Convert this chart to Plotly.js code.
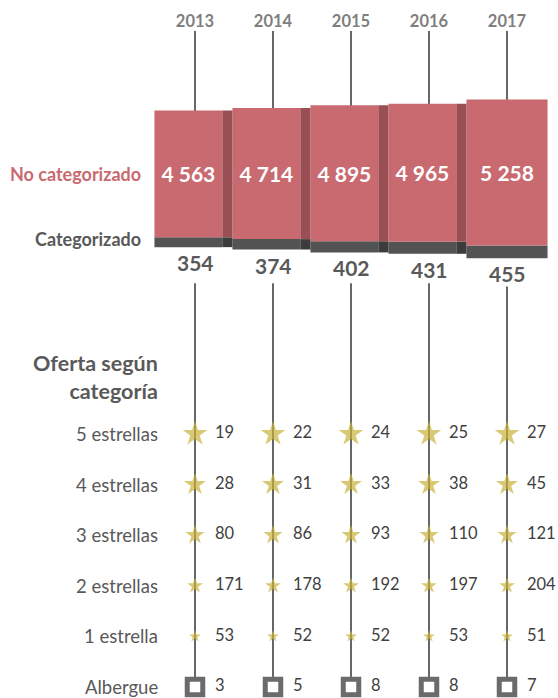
<!DOCTYPE html>
<html>
<head>
<meta charset="utf-8">
<script src="https://cdn.plot.ly/plotly-3.0.1.min.js"></script>
<style>html,body{margin:0;padding:0;background:#fff;}#chart{width:558px;height:698px;}</style>
</head>
<body>
<div id="chart"></div>
<script>
// ---- data ----
var years = ['2013', '2014', '2015', '2016', '2017'];
var noCategorizado = [4563, 4714, 4895, 4965, 5258];
var categorizado = [354, 374, 402, 431, 455];
var rowLabels = ['5 estrellas', '4 estrellas', '3 estrellas', '2 estrellas', '1 estrella', 'Albergue'];
var cinco = [19, 22, 24, 25, 27];
var cuatro = [28, 31, 33, 38, 45];
var tres = [80, 86, 93, 110, 121];
var dos = [171, 178, 192, 197, 204];
var una = [53, 52, 52, 53, 51];
var albergue = [3, 5, 8, 8, 7];

// ---- derived ----
var idx = years.map(function (_, i) { return i; });
var last = idx.length - 1;
var totals = idx.map(function (i) { return noCategorizado[i] + categorizado[i]; });
var baseDark = totals.map(function (t) { return -t / 2; });
var basePink = idx.map(function (i) { return -totals[i] / 2 + categorizado[i]; });
var starRows = [cinco, cuatro, tres, dos, una];
var starSizes = [18.5, 16.5, 14.5, 12, 9];
var faceW = idx.map(function (i) { return i < last ? 0.87 : 1.04; });

var FONT = 'Lato, "Open Sans", sans-serif';
var PINK = '#C96A70', PINK_SH = '#9A4F54', DARK = '#535353', DARK_SH = '#3C3C3C';
var GOLD = '#C9B23B', TXT = '#595959';

var traces = [];
// main bars (front faces)
traces.push({
  type: 'bar', x: idx, y: categorizado, base: baseDark,
  width: faceW, offset: -0.52, marker: {color: DARK, line: {width: 0}},
  hoverinfo: 'skip', showlegend: false
});
traces.push({
  type: 'bar', x: idx, y: noCategorizado, base: basePink,
  width: faceW, offset: -0.52, marker: {color: PINK, line: {width: 0}},
  texttemplate: '%{y:,}', textposition: 'inside', insidetextanchor: 'middle',
  textangle: 0, constraintext: 'none',
  insidetextfont: {family: FONT, size: 21, color: '#ffffff', weight: 'bold'},
  hoverinfo: 'skip', showlegend: false
});
// shadow strips (all but last)
var sh = idx.slice(0, last);
traces.push({
  type: 'bar', x: sh, y: sh.map(function (i) { return categorizado[i]; }),
  base: sh.map(function (i) { return baseDark[i]; }),
  width: 0.13, offset: 0.35, marker: {color: DARK_SH, line: {width: 0}},
  hoverinfo: 'skip', showlegend: false
});
traces.push({
  type: 'bar', x: sh, y: sh.map(function (i) { return noCategorizado[i]; }),
  base: sh.map(function (i) { return basePink[i]; }),
  width: 0.13, offset: 0.35, marker: {color: PINK_SH, line: {width: 0}},
  hoverinfo: 'skip', showlegend: false
});

// stars
var sx = [], sy = [], ss = [], tx = [], ty = [], tt = [];
starRows.forEach(function (row, r) {
  row.forEach(function (v, i) {
    sx.push(i); sy.push(r); ss.push(starSizes[r]);
    tx.push(i + 0.255); ty.push(r); tt.push(String(v));
  });
});
albergue.forEach(function (v, i) {
  tx.push(i + 0.255); ty.push(5); tt.push(String(v));
});
traces.push({
  type: 'scatter', mode: 'markers', x: sx, y: sy, yaxis: 'y2',
  marker: {symbol: 'star', size: ss, color: GOLD, line: {width: 0}},
  cliponaxis: false, hoverinfo: 'skip', showlegend: false
});
traces.push({
  type: 'scatter', mode: 'markers', x: idx, y: idx.map(function () { return 5; }), yaxis: 'y2',
  marker: {symbol: 'square', size: 15.5, color: '#ffffff', line: {width: 5, color: '#6B6B6B'}},
  cliponaxis: false, hoverinfo: 'skip', showlegend: false
});
traces.push({
  type: 'scatter', mode: 'text', x: tx, y: ty, yaxis: 'y2',
  text: tt, textposition: 'middle right',
  textfont: {family: FONT, size: 16.5, color: '#404040'},
  cliponaxis: false, hoverinfo: 'skip', showlegend: false
});

// vertical guide lines
var shapes = [];
idx.forEach(function (i) {
  shapes.push({type: 'line', layer: 'below', xref: 'x', yref: 'y', x0: i, x1: i, y0: 0, y1: 100000,
    line: {color: '#404040', width: 1.6}});
  shapes.push({type: 'line', layer: 'below', xref: 'x', yref: 'y2', x0: i, x1: i, y0: -2.98, y1: 5,
    line: {color: '#404040', width: 1.6}});
});

// annotations
var annotations = [];
// categorized numbers below bars
idx.forEach(function (i) {
  annotations.push({xref: 'x', yref: 'y', x: i, y: baseDark[i], xanchor: 'center', yanchor: 'top', yshift: -2,
    text: String(categorizado[i]), showarrow: false, bgcolor: '#ffffff', borderpad: 0,
    font: {family: FONT, size: 21, color: TXT, weight: 'bold'}});
});
rowLabels.forEach(function (lab, r) {
  annotations.push({xref: 'paper', yref: 'y2', x: 160 / 558, y: r, xanchor: 'right', yanchor: 'middle',
    text: lab, showarrow: false, font: {family: FONT, size: 18.5, color: TXT}});
});
annotations.push({xref: 'paper', yref: 'y2', x: 160 / 558, y: -1.12, xanchor: 'right', yanchor: 'middle',
  align: 'right', text: 'Oferta según<br>categoría', showarrow: false,
  font: {family: FONT, size: 21.5, color: TXT, weight: 'bold'}});
annotations.push({xref: 'paper', yref: 'y', x: 143 / 558, y: categorizado[0] / 2, xanchor: 'right', yanchor: 'middle',
  text: 'No categorizado', showarrow: false, font: {family: FONT, size: 18, color: PINK, weight: 'bold'}});
annotations.push({xref: 'paper', yref: 'y', x: 143 / 558, y: baseDark[0] + categorizado[0] / 2, yshift: 3,
  xanchor: 'right', yanchor: 'middle',
  text: 'Categorizado', showarrow: false, font: {family: FONT, size: 18, color: TXT, weight: 'bold'}});

var layout = {
  width: 558, height: 698,
  margin: {l: 0, r: 0, t: 31, b: 0},
  paper_bgcolor: '#ffffff', plot_bgcolor: '#ffffff',
  separators: ', ',
  barmode: 'overlay',
  showlegend: false,
  xaxis: {range: [-2.5, 4.6538], side: 'top', tickmode: 'array', tickvals: idx, ticktext: years,
    ticks: '', showgrid: false, zeroline: false, showline: false, fixedrange: true,
    tickfont: {family: FONT, size: 16.5, color: '#7F7F7F', weight: 'bold'}},
  yaxis: {range: [-18676, 5316], visible: false, fixedrange: true},
  yaxis2: {range: [5.217, -7.964], overlaying: 'y', visible: false, fixedrange: true},
  shapes: shapes,
  annotations: annotations
};

Plotly.newPlot('chart', traces, layout, {staticPlot: true, displayModeBar: false});
</script>
</body>
</html>
